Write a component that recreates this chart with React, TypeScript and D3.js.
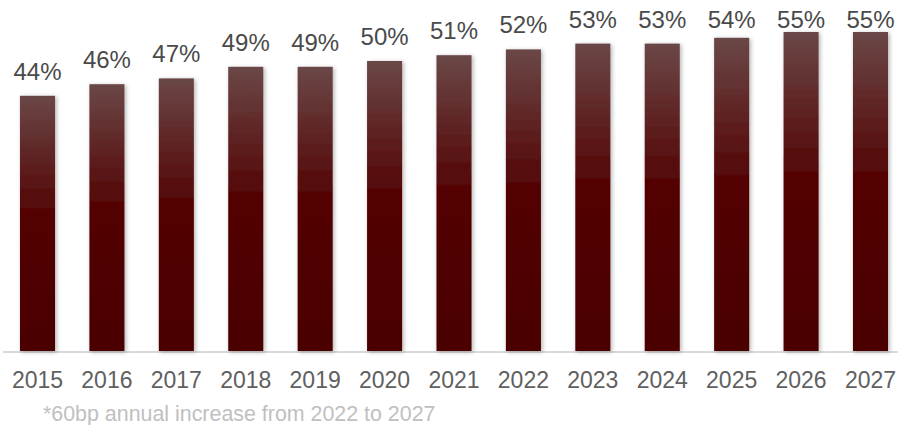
import React from "react";
import * as d3 from "d3";

const years = ["2015","2016","2017","2018","2019","2020","2021","2022","2023","2024","2025","2026","2027"];
const values = [44, 46, 47, 49, 49, 50, 51, 52, 53, 53, 54, 55, 55];
const footnote = "*60bp annual increase from 2022 to 2027";

const W = 898;
const H = 425;
const baseline = 351;

export default function App() {
  const x = d3.scaleBand<string>().domain(years).range([2.8, 905.2]).paddingInner(0.495).paddingOuter(0.2475);
  const y = d3.scaleLinear().domain([0, 55]).range([baseline, 32]);
  const font = "'Liberation Sans', Arial, sans-serif";
  return (
    <svg width={W} height={H} style={{ position: "absolute", left: 0, top: 0, display: "block" }}>
      <defs>
        <linearGradient id="barGrad" x1="0" y1="0" x2="0" y2="1">
          <stop offset="0" stopColor="#6b4747" />
          <stop offset="0.47" stopColor="#530202" />
          <stop offset="1" stopColor="#4b0000" />
        </linearGradient>
        <filter id="shadow" x="-30%" y="-10%" width="160%" height="120%">
          <feDropShadow dx="1.5" dy="1" stdDeviation="2.2" floodColor="#000" floodOpacity="0.3" />
        </filter>
      </defs>
      <rect x={0} y={0} width={W} height={H} fill="#fff" />
      <line x1={3} x2={898} y1={baseline + 1} y2={baseline + 1} stroke="#d9d9d9" strokeWidth={2} />
      {years.map((yr, i) => {
        const bx = x(yr)!;
        const top = y(values[i]);
        const cx = bx + x.bandwidth() / 2;
        const ly = Math.max(top - 16, 28);
        return (
          <g key={yr}>
            <rect x={bx} y={top} width={x.bandwidth()} height={baseline - top} fill="url(#barGrad)" filter="url(#shadow)" />
            <text x={cx} y={ly} textAnchor="middle" fontFamily={font} fontSize={24} fill="#4a4a4a">{values[i]}%</text>
            <text x={cx} y={387.5} textAnchor="middle" fontFamily={font} fontSize={23} fill="#606060">{yr}</text>
          </g>
        );
      })}
      <text x={43} y={421} fontFamily={font} fontSize={21.4} fill="#c0c0c0">{footnote}</text>
    </svg>
  );
}
